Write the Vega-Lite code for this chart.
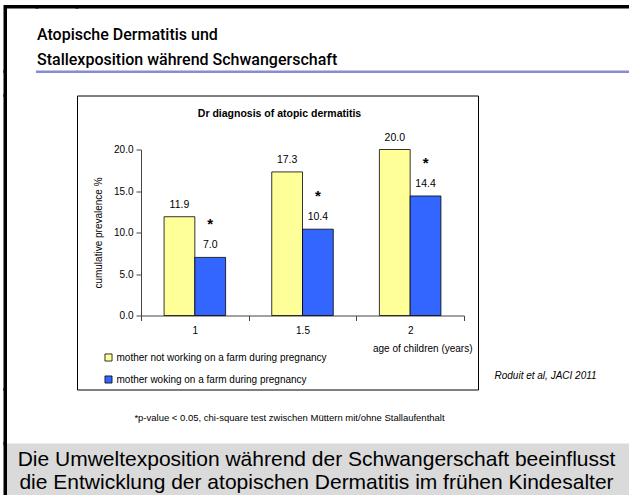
{
  "$schema": "https://vega.github.io/schema/vega-lite/v6.json",
  "padding": {"left": 3, "top": 4.5, "right": 0, "bottom": 0},
  "background": "white",
  "config": {
    "view": {"stroke": null},
    "font": "Liberation Sans",
    "axis": {"labelFont": "Liberation Sans", "titleFont": "Liberation Sans", "labelColor": "black", "titleColor": "black", "grid": false}
  },
  "datasets": {
    "none": [],
    "prev": [
      {"age": "1", "group": "mother not working on a farm during pregnancy", "value": 11.9, "sig": ""},
      {"age": "1", "group": "mother woking on a farm during pregnancy", "value": 7.0, "sig": "*"},
      {"age": "1.5", "group": "mother not working on a farm during pregnancy", "value": 17.3, "sig": ""},
      {"age": "1.5", "group": "mother woking on a farm during pregnancy", "value": 10.4, "sig": "*"},
      {"age": "2", "group": "mother not working on a farm during pregnancy", "value": 20.0, "sig": ""},
      {"age": "2", "group": "mother woking on a farm during pregnancy", "value": 14.4, "sig": "*"}
    ],
    "msg": [
      {"line": 1, "text": "Die Umweltexposition während der Schwangerschaft beeinflusst"},
      {"line": 2, "text": "die Entwicklung der atopischen Dermatitis im frühen Kindesalter"}
    ]
  },
  "columns": 5,
  "spacing": 0,
  "bounds": "flush",
  "align": "each",
  "concat": [
    {"width": 0.5, "height": 65, "data": {"name": "none"}, "mark": "point", "view": {"stroke": "black", "strokeWidth": 3}},
    {"width": 1, "height": 0.5, "data": {"name": "none"}, "mark": "point"},
    {"width": 30, "height": 0.5, "data": {"name": "none"}, "mark": "point", "view": {"stroke": "black", "strokeWidth": 3}},
    {"width": 40, "height": 0.5, "data": {"name": "none"}, "mark": "point", "view": {"stroke": "black", "strokeWidth": 3}},
    {"width": 553, "height": 0.5, "data": {"name": "none"}, "mark": "point", "view": {"stroke": "black", "strokeWidth": 3}},

    {"width": 0.5, "height": 24, "data": {"name": "none"}, "mark": "point", "view": {"stroke": "black", "strokeWidth": 3}},
    {"width": 1, "height": 0.5, "data": {"name": "none"}, "mark": "point"},
    {"width": 30, "height": 0.5, "data": {"name": "none"}, "mark": "point"},
    {
      "width": 40, "height": 0.5, "data": {"name": "none"}, "mark": "point",
      "view": {"stroke": "#8a8ad0", "strokeWidth": 2},
      "title": {"text": ["Atopische Dermatitis und", "Stallexposition während Schwangerschaft"], "anchor": "start", "frame": "group", "font": "Roboto", "fontSize": 16, "fontWeight": 500, "lineHeight": 25, "offset": 4, "dx": 0, "color": "black", "limit": 0}
    },
    {"width": 553, "height": 0.5, "data": {"name": "none"}, "mark": "point", "view": {"stroke": "#8a8ad0", "strokeWidth": 2}},

    {"width": 0.5, "height": 294, "data": {"name": "none"}, "mark": "point", "view": {"stroke": "black", "strokeWidth": 3}},
    {"width": 1, "height": 0.5, "data": {"name": "none"}, "mark": "point"},
    {"width": 30, "height": 0.5, "data": {"name": "none"}, "mark": "point"},
    {"width": 40, "height": 0.5, "data": {"name": "none"}, "mark": "point"},
    {
      "width": 401,
      "height": 294,
      "view": {"stroke": "black", "strokeWidth": 1},
      "title": {"text": "Dr diagnosis of atopic dermatitis", "font": "Liberation Sans", "fontSize": 10.5, "fontWeight": "bold", "offset": -24, "dx": 2, "anchor": "middle", "color": "black"},
      "data": {"name": "prev"},
      "encoding": {
        "x": {
          "field": "age", "type": "nominal", "sort": ["1", "1.5", "2"],
          "scale": {"range": [64, 387], "paddingInner": 0, "paddingOuter": 0},
          "axis": {"orient": "bottom", "offset": -74, "title": "age of children (years)", "titleX": 395, "titleY": 33, "titleAlign": "right", "titleAnchor": "end", "titleBaseline": "middle", "titleFontSize": 10, "titleFontWeight": "normal", "labelAngle": 0, "labelFontSize": 10, "labelPadding": 5, "tickBand": "extent", "tickSize": 5, "tickColor": "#444", "domainColor": "#444"}
        },
        "xOffset": {
          "field": "group", "type": "nominal",
          "sort": ["mother not working on a farm during pregnancy", "mother woking on a farm during pregnancy"],
          "scale": {"paddingInner": 0, "paddingOuter": 0.75}
        }
      },
      "layer": [
        {
          "mark": {"type": "bar", "stroke": "black", "strokeWidth": 0.8},
          "encoding": {
            "y": {
              "field": "value", "type": "quantitative",
              "scale": {"domain": [0, 20], "range": [220, 54], "nice": false, "zero": true},
              "axis": {"orient": "left", "offset": -64, "values": [0, 5, 10, 15, 20], "format": ".1f", "title": "cumulative prevalence %", "titleFontSize": 10, "titleFontWeight": "normal", "titlePadding": 10, "labelFontSize": 10, "labelPadding": 3, "tickSize": 5, "tickColor": "#444", "domainColor": "#444"}
            },
            "color": {
              "field": "group", "type": "nominal",
              "sort": ["mother not working on a farm during pregnancy", "mother woking on a farm during pregnancy"],
              "scale": {"range": ["#FFFF99", "#3366FF"]},
              "legend": {"orient": "none", "direction": "vertical", "legendX": 98.5, "legendY": 346, "title": null, "symbolType": "square", "symbolSize": 50, "symbolStrokeColor": "black", "symbolStrokeWidth": 0.8, "symbolOpacity": 1, "labelFontSize": 10, "labelFont": "Liberation Sans", "labelColor": "black", "rowPadding": 10, "labelOffset": 3, "padding": 0, "labelLimit": 400}
            }
          }
        },
        {
          "mark": {"type": "text", "dy": -12, "fontSize": 10.5, "baseline": "middle", "color": "black"},
          "encoding": {
            "y": {"field": "value", "type": "quantitative", "scale": {"domain": [0, 20], "range": [220, 54], "nice": false, "zero": true}, "axis": null},
            "text": {"field": "value", "type": "quantitative", "format": ".1f"}
          }
        },
        {
          "mark": {"type": "text", "dy": -33, "fontSize": 15, "fontWeight": "bold", "baseline": "middle", "color": "black"},
          "encoding": {
            "y": {
              "field": "value", "type": "quantitative",
              "scale": {"domain": [0, 20], "range": [220, 54], "nice": false, "zero": true},
              "axis": {"orient": "right", "labels": false, "ticks": false, "domain": false, "grid": false, "title": "Roduit et al, JACI 2011", "titleAngle": 0, "titleX": 16, "titleY": 280, "titleAlign": "left", "titleBaseline": "middle", "titleFontStyle": "italic", "titleFontWeight": "normal", "titleFontSize": 10}
            },
            "text": {"field": "sig", "type": "nominal"}
          }
        }
      ],
      "resolve": {"axis": {"y": "independent"}}
    },

    {"width": 0.5, "height": 54, "data": {"name": "none"}, "mark": "point", "view": {"stroke": "black", "strokeWidth": 3}},
    {"width": 1, "height": 0.5, "data": {"name": "none"}, "mark": "point"},
    {"width": 30, "height": 0.5, "data": {"name": "none"}, "mark": "point"},
    {"width": 40, "height": 0.5, "data": {"name": "none"}, "mark": "point"},
    {"width": 553, "height": 0.5, "data": {"name": "none"}, "mark": "point"},

    {"width": 0.5, "height": 60, "data": {"name": "none"}, "mark": "point", "view": {"stroke": "black", "strokeWidth": 3}},
    {"width": 1, "height": 0.5, "data": {"name": "none"}, "mark": "point"},
    {"width": 30, "height": 52, "data": {"name": "none"}, "mark": "point", "view": {"fill": "#dadada", "stroke": null}},
    {"width": 40, "height": 52, "data": {"name": "none"}, "mark": "point", "view": {"fill": "#dadada", "stroke": null}},
    {
      "width": 553,
      "height": 52,
      "view": {"fill": "#dadada", "stroke": null},
      "title": {"text": "*p-value < 0.05, chi-square test zwischen Müttern mit/ohne Stallaufenthalt", "font": "Liberation Sans", "fontSize": 9.5, "fontWeight": "normal", "anchor": "middle", "offset": 21, "dx": -64, "color": "black"},
      "data": {"name": "msg"},
      "mark": {"type": "text", "fontSize": 21, "font": "Liberation Sans", "color": "black", "baseline": "middle", "dx": -37},
      "encoding": {
        "y": {"field": "line", "type": "ordinal", "scale": {"type": "point", "range": [16, 39], "padding": 0}, "axis": null},
        "text": {"field": "text", "type": "nominal"}
      }
    }
  ]
}
